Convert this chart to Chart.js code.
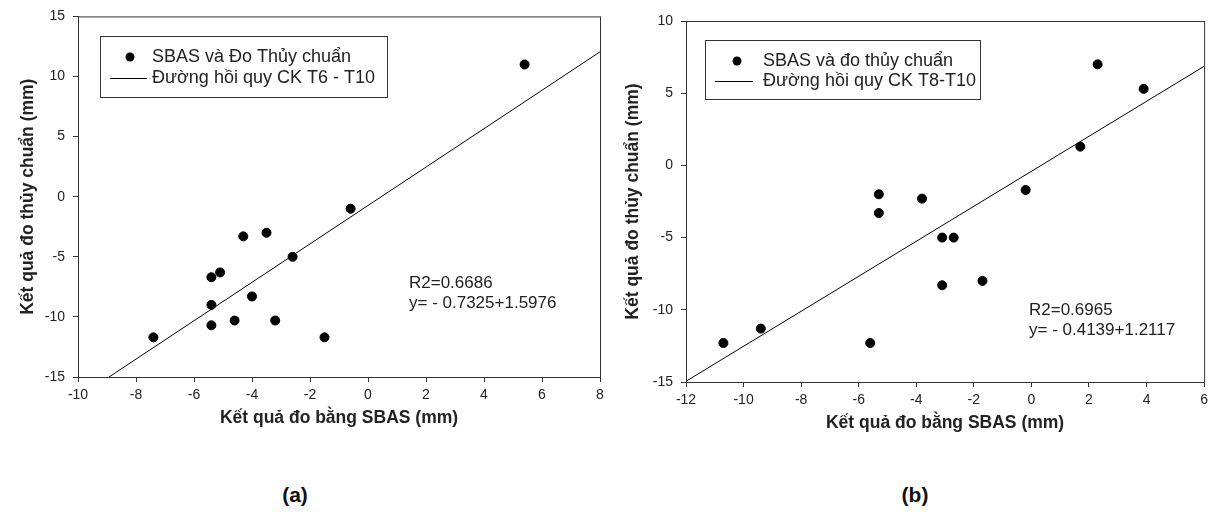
<!DOCTYPE html>
<html>
<head>
<meta charset="utf-8">
<script src="https://cdn.jsdelivr.net/npm/chart.js@4.4.1/dist/chart.umd.min.js"></script>
<style>
  html, body { margin: 0; padding: 0; background: #fff; }
  body { width: 1213px; height: 517px; position: relative; overflow: hidden; }
  canvas { position: absolute; top: 0; }
  #chartA { left: 0; }
  #chartB { left: 610px; }
  .tag { position: absolute; top: 483px; font: bold 21px "Liberation Sans", Arial, sans-serif; color: #111; transform: translateX(-50%); }
</style>
</head>
<body>
<canvas id="chartA" width="610" height="460"></canvas>
<canvas id="chartB" width="603" height="460"></canvas>
<div class="tag" style="left:295px">(a)</div>
<div class="tag" style="left:915px">(b)</div>
<script>
// ── (a) CK T6 - T10 ───────────────────────────────
const sbasA  = [-7.4, -5.4, -5.1, -5.4, -5.4, -4.6, -4.0, -3.2, -2.6, -1.5, -4.3, -3.5, -0.6, 5.4];
const levelA = [-11.7, -6.7, -6.3, -9.0, -10.7, -10.3, -8.3, -10.3, -5.0, -11.7, -3.3, -3.0, -1.0, 11.0];
const fitAX  = [-8.93, 8];
const fitAY  = [-15, 12.05];
const xTicksA = [-10, -8, -6, -4, -2, 0, 2, 4, 6, 8];
const yTicksA = [-15, -10, -5, 0, 5, 10, 15];

// ── (b) CK T8 - T10 ───────────────────────────────
const sbasB  = [-10.7, -9.4, -5.6, -5.3, -5.3, -3.8, -3.1, -3.1, -2.7, -1.7, -0.2, 1.7, 2.3, 3.9];
const levelB = [-12.3, -11.3, -12.3, -2.0, -3.3, -2.3, -5.0, -8.3, -5.0, -8.0, -1.7, 1.3, 7.0, 5.3];
const fitBX  = [-12, 6];
const fitBY  = [-14.95, 6.86];
const xTicksB = [-12, -10, -8, -6, -4, -2, 0, 2, 4, 6];
const yTicksB = [-15, -10, -5, 0, 5, 10];

const FONT = '"Liberation Sans", Arial, sans-serif';
const INK = '#222';
const AXIS = '#333';

Chart.defaults.font.family = FONT;
Chart.defaults.color = INK;

const pts = (xs, ys) => xs.map((x, i) => ({ x, y: ys[i] }));

// frame on all four sides
const framePlugin = {
  id: 'frame',
  afterDraw(chart) {
    const { ctx, chartArea: a } = chart;
    ctx.save();
    ctx.strokeStyle = AXIS;
    ctx.lineWidth = 1;
    ctx.strokeRect(a.left + 0.5, a.top + 0.5, a.right - a.left, a.bottom - a.top);
    ctx.restore();
  }
};

// boxed legend + regression note, drawn inside the plot
const notePlugin = {
  id: 'note',
  afterDraw(chart, args, opts) {
    const { ctx } = chart;
    const b = opts.box;
    ctx.save();
    ctx.fillStyle = '#fff';
    ctx.fillRect(b.x, b.y, b.w, b.h);
    ctx.strokeStyle = AXIS;
    ctx.lineWidth = 1;
    ctx.strokeRect(b.x + 0.5, b.y + 0.5, b.w, b.h);
    ctx.font = '18px ' + FONT;
    ctx.textBaseline = 'middle';
    const pointSet = chart.data.datasets[1];
    const lineSet = chart.data.datasets[0];
    // row 1: dot
    ctx.beginPath();
    ctx.arc(b.symX, b.row1, 4.5, 0, Math.PI * 2);
    ctx.fillStyle = '#000';
    ctx.fill();
    ctx.fillStyle = INK;
    ctx.fillText(pointSet.label, b.textX, b.row1);
    // row 2: line
    ctx.beginPath();
    ctx.moveTo(b.lineX0, b.row2 + 0.5);
    ctx.lineTo(b.lineX1, b.row2 + 0.5);
    ctx.strokeStyle = '#000';
    ctx.stroke();
    ctx.fillText(lineSet.label, b.textX, b.row2);
    // R2 + equation
    ctx.font = '17px ' + FONT;
    opts.text.forEach((t, i) => ctx.fillText(t, opts.textX, opts.textY + i * 20));
    ctx.restore();
  }
};

function makeChart(id, cfg) {
  const fixTicks = arr => scale => { scale.ticks = arr.map(v => ({ value: v })); };
  return new Chart(document.getElementById(id), {
    type: 'scatter',
    data: {
      datasets: [
        {
          label: cfg.lineLabel,
          data: pts(cfg.fitX, cfg.fitY),
          showLine: true,
          borderColor: '#000',
          borderWidth: 1,
          pointRadius: 0,
          order: 2
        },
        {
          label: cfg.pointLabel,
          data: pts(cfg.xs, cfg.ys),
          backgroundColor: '#000',
          borderColor: '#000',
          pointRadius: 4.5,
          pointHoverRadius: 4.5,
          order: 1
        }
      ]
    },
    options: {
      responsive: false,
      animation: false,
      events: [],
      layout: { padding: cfg.padding },
      plugins: {
        legend: { display: false },
        tooltip: { enabled: false },
        note: { box: cfg.box, text: cfg.note, textX: cfg.noteX, textY: cfg.noteY }
      },
      scales: {
        x: {
          type: 'linear',
          min: cfg.xTicks[0],
          max: cfg.xTicks[cfg.xTicks.length - 1],
          afterBuildTicks: fixTicks(cfg.xTicks),
          afterFit: s => { s.height = cfg.xAxisH; },
          grid: { drawOnChartArea: false, drawTicks: true, tickLength: 5, tickColor: AXIS },
          border: { display: true, color: AXIS, width: 1 },
          ticks: { font: { size: 14 }, color: INK, padding: 5, maxRotation: 0 },
          title: { display: true, text: 'Kết quả đo bằng SBAS (mm)', font: { size: 17.5, weight: 'bold' }, color: INK, padding: { bottom: cfg.xTitlePad } }
        },
        y: {
          type: 'linear',
          min: cfg.yTicks[0],
          max: cfg.yTicks[cfg.yTicks.length - 1],
          afterBuildTicks: fixTicks(cfg.yTicks),
          afterFit: s => { s.width = cfg.yAxisW; },
          grid: { drawOnChartArea: false, drawTicks: true, tickLength: 5, tickColor: AXIS },
          border: { display: true, color: AXIS, width: 1 },
          ticks: { font: { size: 14 }, color: INK, padding: 8 },
          title: { display: true, text: 'Kết quả đo thủy chuẩn (mm)', font: { size: 17.5, weight: 'bold' }, color: INK, padding: { top: cfg.yTitlePad } }
        }
      }
    },
    plugins: [framePlugin, notePlugin]
  });
}

makeChart('chartA', {
  xs: sbasA, ys: levelA, fitX: fitAX, fitY: fitAY,
  xTicks: xTicksA, yTicks: yTicksA,
  pointLabel: 'SBAS và Đo Thủy chuẩn',
  lineLabel: 'Đường hồi quy CK T6 - T10',
  padding: { top: 12, right: 10, left: 0, bottom: 0 },
  yAxisW: 78, xAxisH: 83, xTitlePad: 31, yTitlePad: 18,
  box: { x: 100, y: 36, w: 287, h: 61, symX: 130, lineX0: 110, lineX1: 147, textX: 152, row1: 57, row2: 78 },
  note: ['R2=0.6686', 'y= - 0.7325+1.5976'], noteX: 409, noteY: 283
});

makeChart('chartB', {
  xs: sbasB, ys: levelB, fitX: fitBX, fitY: fitBY,
  xTicks: xTicksB, yTicks: yTicksB,
  pointLabel: 'SBAS và đo thủy chuẩn',
  lineLabel: 'Đường hồi quy CK T8-T10',
  padding: { top: 21, right: 7, left: 0, bottom: 0 },
  yAxisW: 76, xAxisH: 78, xTitlePad: 26, yTitlePad: 13,
  box: { x: 95, y: 40, w: 275, h: 59, symX: 127, lineX0: 105, lineX1: 143, textX: 153, row1: 61, row2: 81 },
  note: ['R2=0.6965', 'y= - 0.4139+1.2117'], noteX: 419, noteY: 310
});
</script>
</body>
</html>
